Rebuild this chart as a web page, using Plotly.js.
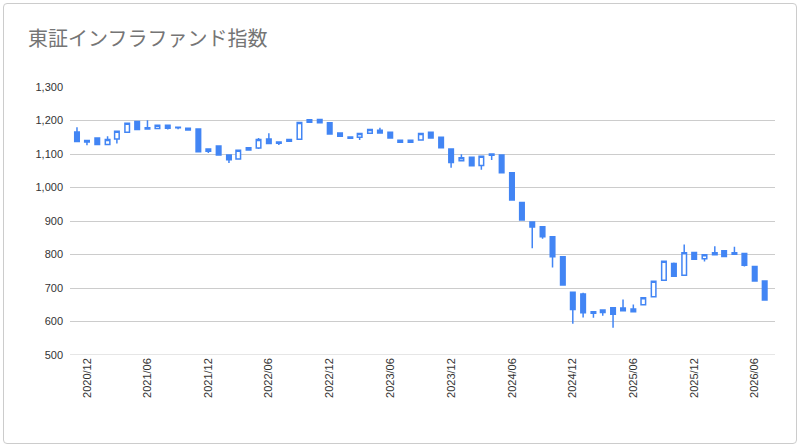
<!DOCTYPE html>
<html>
<head>
<meta charset="utf-8">
<script src="https://cdn.plot.ly/plotly-3.0.1.min.js"></script>
<style>
  body { margin: 0; background: #fff; }
  #frame { position: absolute; left: 3px; top: 3px; width: 792px; height: 439px;
           border: 1px solid #cccccc; border-radius: 4px; }
  #chart { position: absolute; left: 0; top: 0; width: 800px; height: 447px; }
</style>
</head>
<body>
<div id="frame"></div>
<div id="chart"></div>
<script>
// monthly candles, 2020/11 .. 2026/07
const months = [
  '2020-11', '2020-12', '2021-01', '2021-02', '2021-03', '2021-04', '2021-05', '2021-06',
  '2021-07', '2021-08', '2021-09', '2021-10', '2021-11', '2021-12', '2022-01', '2022-02',
  '2022-03', '2022-04', '2022-05', '2022-06', '2022-07', '2022-08', '2022-09', '2022-10',
  '2022-11', '2022-12', '2023-01', '2023-02', '2023-03', '2023-04', '2023-05', '2023-06',
  '2023-07', '2023-08', '2023-09', '2023-10', '2023-11', '2023-12', '2024-01', '2024-02',
  '2024-03', '2024-04', '2024-05', '2024-06', '2024-07', '2024-08', '2024-09', '2024-10',
  '2024-11', '2024-12', '2025-01', '2025-02', '2025-03', '2025-04', '2025-05', '2025-06',
  '2025-07', '2025-08', '2025-09', '2025-10', '2025-11', '2025-12', '2026-01', '2026-02',
  '2026-03', '2026-04', '2026-05', '2026-06', '2026-07'
];
const openV = [
  1166, 1140, 1148, 1128, 1145, 1165, 1197, 1178, 1176, 1186, 1180, 1177, 1175, 1108, 1124, 1097,
  1085, 1112, 1118, 1145, 1136, 1143, 1144, 1195, 1203, 1193, 1163, 1151, 1150, 1162, 1171, 1165,
  1141, 1135, 1142, 1165, 1150, 1115, 1080, 1090, 1066, 1100, 1097, 1044, 955, 897, 883, 853,
  793, 687, 682, 629, 634, 641, 640, 637, 650, 674, 723, 773, 738, 806, 787, 799,
  811, 805, 803, 764, 721
];
const highV = [
  1180, 1141, 1148, 1153, 1170, 1193, 1197, 1201, 1187, 1187, 1181, 1177, 1175, 1117, 1124, 1097,
  1113, 1120, 1148, 1162, 1136, 1145, 1194, 1203, 1204, 1193, 1164, 1151, 1162, 1174, 1178, 1165,
  1142, 1142, 1162, 1165, 1150, 1115, 1099, 1090, 1094, 1101, 1097, 1044, 955, 897, 883, 853,
  793, 687, 686, 629, 634, 641, 666, 651, 672, 721, 781, 776, 830, 806, 800, 825,
  811, 823, 803, 764, 721
];
const lowV = [
  1137, 1126, 1127, 1127, 1131, 1164, 1172, 1174, 1174, 1173, 1174, 1170, 1107, 1103, 1097, 1073,
  1083, 1110, 1115, 1130, 1127, 1137, 1144, 1194, 1192, 1159, 1152, 1145, 1142, 1162, 1162, 1147,
  1134, 1133, 1142, 1147, 1119, 1059, 1078, 1064, 1053, 1082, 1044, 963, 903, 819, 847, 761,
  709, 593, 612, 611, 617, 581, 631, 628, 649, 674, 722, 734, 737, 786, 779, 798,
  793, 800, 764, 721, 664
];
const closeV = [
  1137, 1136, 1128, 1143, 1168, 1192, 1173, 1175, 1186, 1177, 1178, 1172, 1107, 1115, 1097, 1083,
  1111, 1119, 1143, 1131, 1132, 1138, 1194, 1202, 1193, 1160, 1153, 1147, 1161, 1173, 1163, 1148,
  1135, 1141, 1161, 1148, 1119, 1075, 1089, 1065, 1093, 1096, 1044, 963, 903, 882, 853, 793,
  709, 636, 626, 625, 627, 622, 632, 629, 671, 720, 780, 735, 805, 786, 799, 805,
  794, 801, 768, 721, 664
];
const tickDates = ['2020-12-01', '2021-06-01', '2021-12-01', '2022-06-01', '2022-12-01', '2023-06-01',
  '2023-12-01', '2024-06-01', '2024-12-01', '2025-06-01', '2025-12-01', '2026-06-01'];
const tickLabels = ['2020/12', '2021/06', '2021/12', '2022/06', '2022/12', '2023/06',
  '2023/12', '2024/06', '2024/12', '2025/06', '2025/12', '2026/06'];

const blue = '#4285f4';

const data = [{
  type: 'candlestick',
  x: months.map(m => m + '-01'),
  open: openV,
  high: highV,
  low: lowV,
  close: closeV,
  whiskerwidth: 0,
  increasing: { line: { color: blue, width: 1.5 }, fillcolor: '#ffffff' },
  decreasing: { line: { color: blue, width: 1.5 }, fillcolor: blue },
  hoverinfo: 'x+y',
}];

const tickFont = { family: 'Liberation Sans, Arial, sans-serif', size: 11, color: '#333333' };

const layout = {
  width: 800,
  height: 447,
  paper_bgcolor: 'rgba(0,0,0,0)',
  plot_bgcolor: 'rgba(0,0,0,0)',
  margin: { l: 70, r: 25, t: 87, b: 92 },
  showlegend: false,
  boxgap: 0.3,
  title: {
    text: '東証インフラファンド指数',
    font: { family: 'Noto Sans CJK JP, sans-serif', size: 20, color: '#757575' },
    xref: 'container', yref: 'container',
    x: 0.035, xanchor: 'left',
    y: 0.913, yanchor: 'middle',
  },
  xaxis: {
    type: 'date',
    range: ['2020-10-11', '2026-08-01'],
    rangeslider: { visible: false },
    tickvals: tickDates,
    ticktext: tickLabels,
    tickangle: -90,
    tickfont: tickFont,
    showgrid: false,
    zeroline: false,
    showline: false,
    ticks: '',
  },
  yaxis: {
    range: [500, 1300],
    dtick: 100,
    tickformat: ',d',
    tickfont: tickFont,
    gridcolor: '#cccccc',
    gridwidth: 1,
    zeroline: false,
    ticks: '',
    ticklabelstandoff: 6,
  },
  shapes: [{
    type: 'line', xref: 'paper', yref: 'y', x0: 0, x1: 1, y0: 500, y1: 500,
    line: { color: '#cccccc', width: 1 },
  }],
};

Plotly.newPlot('chart', data, layout, { displayModeBar: false, staticPlot: true });
</script>
</body>
</html>
